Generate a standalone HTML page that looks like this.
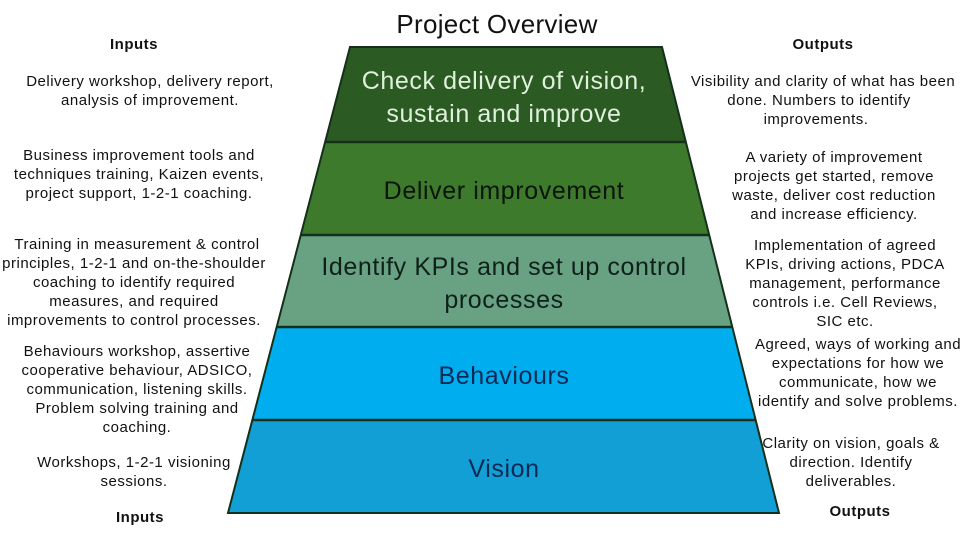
<!DOCTYPE html>
<html><head><meta charset="utf-8"><style>html,body{margin:0;padding:0;background:#fff}svg{display:block}</style></head>
<body>
<svg width="960" height="540" viewBox="0 0 960 540" xmlns="http://www.w3.org/2000/svg" font-family="Liberation Sans, sans-serif">
<rect width="960" height="540" fill="#fff"/>
<polygon points="350,47 662,47 686,142 325,142" fill="#2c5a23"/>
<polygon points="325,142 686,142 709,235 301,235" fill="#3d7a2c"/>
<polygon points="301,235 709,235 732,327 277,327" fill="#68a283"/>
<polygon points="277,327 732,327 755,420 252,420" fill="#00aeef"/>
<polygon points="252,420 755,420 779,513 228,513" fill="#119fd6"/>
<polygon points="350,47 662,47 779,513 228,513" fill="none" stroke="#15301a" stroke-width="2"/>
<g stroke="#15301a" stroke-width="2.5">
<line x1="325" y1="142" x2="686" y2="142"/>
<line x1="301" y1="235" x2="709" y2="235"/>
<line x1="277" y1="327" x2="732" y2="327"/>
<line x1="252" y1="420" x2="755" y2="420"/>
</g>
<g text-anchor="middle" font-size="25" letter-spacing="0.6">
<text x="504" y="89" fill="#dff0dc">Check delivery of vision,</text>
<text x="504" y="122" fill="#dff0dc">sustain and improve</text>
<text x="504" y="199" fill="#0a140a">Deliver improvement</text>
<text x="504" y="275" fill="#0f1f1a">Identify KPIs and set up control</text>
<text x="504" y="308" fill="#0f1f1a">processes</text>
<text x="504" y="384" fill="#0a2a55">Behaviours</text>
<text x="504" y="477" fill="#0a2a55">Vision</text>
<text x="497" y="33" fill="#111" font-size="26" letter-spacing="0.3">Project Overview</text>
</g>
<g text-anchor="middle" font-size="15" letter-spacing="0.5" fill="#111">
<text x="134" y="49" font-weight="bold" font-size="15">Inputs</text>
<text x="140" y="522" font-weight="bold" font-size="15">Inputs</text>
<text x="823" y="49" font-weight="bold" font-size="15">Outputs</text>
<text x="860" y="516" font-weight="bold" font-size="15">Outputs</text>

<text x="150" y="86">Delivery workshop, delivery report,</text>
<text x="150" y="105">analysis of improvement.</text>

<text x="139" y="160">Business improvement tools and</text>
<text x="139" y="179">techniques training, Kaizen events,</text>
<text x="139" y="198">project support, 1-2-1 coaching.</text>

<text x="137" y="249">Training in measurement &amp; control</text>
<text x="134" y="268">principles, 1-2-1 and on-the-shoulder</text>
<text x="134" y="287">coaching to identify required</text>
<text x="134" y="306">measures, and required</text>
<text x="134" y="325">improvements to control processes.</text>

<text x="137" y="356">Behaviours workshop, assertive</text>
<text x="137" y="375">cooperative behaviour, ADSICO,</text>
<text x="137" y="394">communication, listening skills.</text>
<text x="137" y="413">Problem solving training and</text>
<text x="137" y="432">coaching.</text>

<text x="134" y="467">Workshops, 1-2-1 visioning</text>
<text x="134" y="486">sessions.</text>

<text x="823" y="86">Visibility and clarity of what has been</text>
<text x="819" y="105">done. Numbers to identify</text>
<text x="816" y="124">improvements.</text>

<text x="834" y="162">A variety of improvement</text>
<text x="834" y="181">projects get started, remove</text>
<text x="834" y="200">waste, deliver cost reduction</text>
<text x="834" y="219">and increase efficiency.</text>

<text x="845" y="250">Implementation of agreed</text>
<text x="845" y="269">KPIs, driving actions, PDCA</text>
<text x="845" y="288">management, performance</text>
<text x="845" y="307">controls i.e. Cell Reviews,</text>
<text x="845" y="326">SIC etc.</text>

<text x="858" y="349">Agreed, ways of working and</text>
<text x="858" y="368">expectations for how  we</text>
<text x="858" y="387">communicate, how we</text>
<text x="858" y="406">identify and solve problems.</text>

<text x="851" y="448">Clarity on vision, goals &amp;</text>
<text x="851" y="467">direction. Identify</text>
<text x="851" y="486">deliverables.</text>
</g>
</svg>
</body></html>
